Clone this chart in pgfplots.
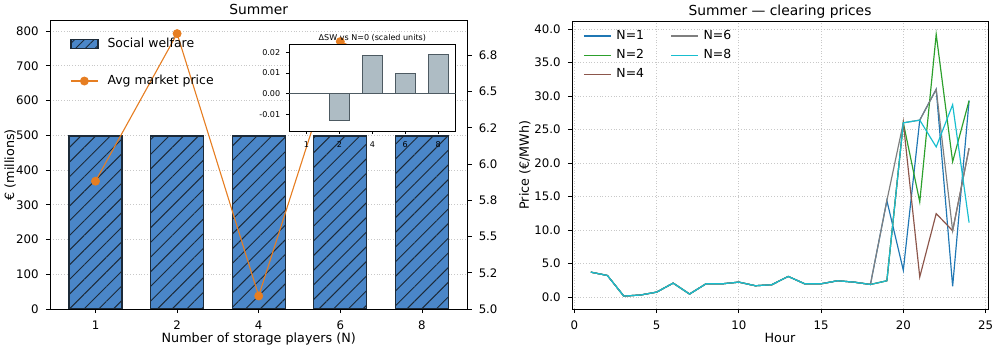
\documentclass[border=0pt]{standalone}
\usepackage{fontspec}
\setmainfont{DejaVu Sans}
\usepackage{pgfplots}
\usepackage{pgfplotstable}
\pgfplotsset{compat=1.18}
\usetikzlibrary{patterns.meta}

\definecolor{barblue}{HTML}{4A86C8}
\definecolor{baredge}{HTML}{1C2A38}
\definecolor{porange}{HTML}{E67E22}
\definecolor{insetfill}{HTML}{AEBCC4}
\definecolor{insetedge}{HTML}{4D5A62}
\definecolor{gridc}{HTML}{C8C8C8}
\definecolor{cA}{HTML}{1F77B4}
\definecolor{cB}{HTML}{2CA02C}
\definecolor{cC}{HTML}{8C564B}
\definecolor{cD}{HTML}{7F7F7F}
\definecolor{cE}{HTML}{17BECF}

\pgfplotstableread{
hour n1 n2 n4 n6 n8
1 3.72 3.72 3.72 3.72 3.72
2 3.22 3.22 3.22 3.22 3.22
3 0.15 0.15 0.15 0.15 0.15
4 0.30 0.30 0.30 0.30 0.30
5 0.74 0.74 0.74 0.74 0.74
6 2.08 2.08 2.08 2.08 2.08
7 0.45 0.45 0.45 0.45 0.45
8 1.98 1.98 1.98 1.98 1.98
9 1.98 1.98 1.98 1.98 1.98
10 2.23 2.23 2.23 2.23 2.23
11 1.69 1.69 1.69 1.69 1.69
12 1.84 1.84 1.84 1.84 1.84
13 3.08 3.08 3.08 3.08 3.08
14 1.98 1.98 1.98 1.98 1.98
15 1.98 1.98 1.98 1.98 1.98
16 2.43 2.43 2.43 2.43 2.43
17 2.23 2.23 2.23 2.23 2.23
18 1.88 1.88 1.88 1.88 1.88
19 14.4 2.43 2.43 14.4 2.43
20 4.0 26.0 26.0 26.0 26.0
21 26.4 14.2 3.0 26.4 26.4
22 31.0 39.2 12.45 31.0 22.4
23 1.6 20.2 9.9 9.9 28.7
24 29.3 29.3 22.2 22.2 11.1
}\prices

\pgfplotsset{
  every axis title shift=0pt,
  mpl/.style={
    scale only axis,
    /pgf/number format/assume math mode=true,
    tick label style={font=\fontsize{8.5}{10}\selectfont},
    label style={font=\fontsize{9.2}{11}\selectfont},
    title style={font=\fontsize{10}{12}\selectfont, at={(axis description cs:0.5,1)}, anchor=base, yshift=4.2pt, inner sep=0pt},
    tick align=outside,
    major tick length=3pt,
    every tick/.style={black, line width=0.6pt},
    axis line style={black, line width=0.7pt},
    grid style={gridc, line width=0.6pt, dash pattern=on 0.7pt off 1.3pt},
  },
}

\begin{document}
\begin{tikzpicture}
\path[use as bounding box] (0,0) rectangle (720.53pt,252.22pt);

% ---------- left panel: bars ----------
\begin{axis}[mpl,
  at={(36.14pt,28.91pt)}, anchor=south west,
  width=301.66pt, height=208.35pt,
  xmin=-0.5575, xmax=4.5575, ymin=0, ymax=830,
  xtick={0,1,2,3,4}, xticklabels={1,2,4,6,8},
  ytick={0,100,200,300,400,500,600,700,800},
  tick pos=left,
  xticklabel style={anchor=base, yshift=-12pt, inner sep=0pt},
  yticklabel style={anchor=east, xshift=-5pt, inner sep=0pt},
  ymajorgrids,
  xlabel={Number of storage players (N)},
  xlabel style={at={(axis description cs:0.5,0)}, anchor=base, yshift=-24pt, inner sep=0pt},
  ylabel={€ (millions)},
  ylabel style={at={([xshift=-28.9pt]axis description cs:0,0.5)}, anchor=center, inner sep=0pt},
  title={Summer},
]
\addplot[ybar, bar width=0.65, bar shift=0pt, fill=barblue, draw=baredge, line width=0.9pt,
  postaction={pattern={Lines[angle=45,distance=7.5pt,line width=0.7pt]}, pattern color=baredge, draw=baredge, line width=0.9pt}]
  coordinates {(0,498) (1,498) (2,498) (3,498) (4,498)};
\end{axis}

% ---------- left panel: price twin axis ----------
\begin{axis}[mpl,
  at={(36.14pt,28.91pt)}, anchor=south west,
  width=301.66pt, height=208.35pt,
  xmin=-0.5575, xmax=4.5575, ymin=5.0, ymax=6.99,
  axis x line=none, axis y line*=right,
  ytick={5,5.25,5.5,5.75,6,6.25,6.5,6.75},
  yticklabels={5.0,5.2,5.5,5.8,6.0,6.2,6.5,6.8},
  yticklabel style={anchor=west, xshift=5pt, inner sep=0pt},
  legend image code/.code={\draw[mark repeat=2,mark phase=2,#1] plot coordinates {(0pt,0pt) (9.75pt,0pt) (19.5pt,0pt)};},
  legend style={draw=none, fill=none, at={(axis description cs:0,1)}, anchor=north west,
    xshift=14.45pt, yshift=-12.2pt, inner sep=0pt, row sep=17.7pt,
    nodes={inner sep=0pt, text height=7pt, text depth=2pt, font=\fontsize{9}{11}\selectfont},
    /tikz/every odd column/.append style={column sep=6.5pt}},
  legend cell align=left,
]
\addlegendimage{legend image code/.code={\draw[fill=barblue, draw=baredge, line width=0.9pt, postaction={pattern={Lines[angle=45,distance=5pt,line width=0.6pt]}, pattern color=baredge, draw=baredge, line width=0.9pt}] (0pt,-3.25pt) rectangle (19.5pt,3.25pt);}}
\addlegendentry{Social welfare}
\addplot[porange, line width=0.8pt, mark=*, mark size=2.8pt, mark options={solid, fill=porange, draw=porange}]
  coordinates {(0,5.882) (1,6.901) (2,5.09) (3,6.846) (4,6.6)};
\addlegendentry{Avg market price}
\node[rotate=90, font=\fontsize{9.2}{11}\selectfont, anchor=center, inner sep=0pt] at ([xshift=29.0pt]axis description cs:1,0.5) {Price (€/MWh)};
\end{axis}

% ---------- inset ----------
\begin{axis}[mpl,
  at={(208.86pt,157.55pt)}, anchor=south west,
  width=120.47pt, height=62.66pt,
  xmin=-0.53, xmax=4.53, ymin=-0.018, ymax=0.0239,
  axis background/.style={fill=white},
  xtick={0,1,2,3,4}, xticklabels={1,2,4,6,8},
  ytick={-0.01,0,0.01,0.02}, yticklabels={-0.01,0.00,0.01,0.02},
  scaled y ticks=false,
  tick pos=left,
  major tick length=2.2pt,
  tick label style={font=\fontsize{5.8}{7}\selectfont},
  xticklabel style={anchor=base, yshift=-9.4pt, inner sep=0pt},
  yticklabel style={anchor=east, xshift=-4pt, inner sep=0pt},
  title={ΔSW vs N=0 (scaled units)},
  title style={font=\fontsize{5.8}{7}\selectfont, yshift=-1.8pt},
  axis line style={black, line width=0.6pt},
]
\addplot[ybar, bar width=0.6, bar shift=0pt, fill=insetfill, draw=insetedge, line width=0.7pt]
  coordinates {(0,0) (1,-0.013) (2,0.0184) (3,0.00995) (4,0.0188)};
\addplot[insetedge, line width=0.8pt, forget plot] coordinates {(-0.53,0) (4.53,0)};
\end{axis}

% ---------- right panel ----------
\begin{axis}[mpl,
  at={(413.38pt,28.91pt)}, anchor=south west,
  width=300.64pt, height=208.14pt,
  xmin=-0.15, xmax=25.15, ymin=-1.78, ymax=41.19,
  xtick={0,5,10,15,20,25}, ytick={0,5,10,15,20,25,30,35,40},
  tick pos=left,
  xticklabel style={anchor=base, yshift=-12pt, inner sep=0pt},
  yticklabel style={anchor=east, xshift=-5pt, inner sep=0pt,
    /pgf/number format/fixed, /pgf/number format/fixed zerofill, /pgf/number format/precision=1},
  grid=major,
  xlabel={Hour},
  xlabel style={at={(axis description cs:0.5,0)}, anchor=base, yshift=-24pt, inner sep=0pt},
  ylabel={Price (€/MWh)},
  ylabel style={at={([xshift=-34pt]axis description cs:0,0.5)}, anchor=center, inner sep=0pt},
  title={Summer — clearing prices},
  legend image code/.code={\draw[#1, line width=0.85pt] (0pt,0pt) -- (19.5pt,0pt);},
  legend columns=2,
  legend cell align=left,
  legend style={draw=none, fill=none, at={(axis description cs:0,1)}, anchor=north west,
    xshift=8pt, yshift=-6.2pt, inner sep=0pt, row sep=4.9pt,
    nodes={inner sep=0pt, text height=7pt, text depth=2pt, font=\fontsize{9}{11}\selectfont},
    /tikz/every odd column/.append style={column sep=3.6pt},
    /tikz/every even column/.append style={column sep=19pt}},
]
\addlegendimage{cA}\addlegendentry{N=1}
\addlegendimage{cD}\addlegendentry{N=6}
\addlegendimage{cB}\addlegendentry{N=2}
\addlegendimage{cE}\addlegendentry{N=8}
\addlegendimage{cC}\addlegendentry{N=4}
\addplot[cA, line width=0.85pt, forget plot] table[x=hour, y=n1] {\prices};
\addplot[cB, line width=0.85pt, forget plot] table[x=hour, y=n2] {\prices};
\addplot[cC, line width=0.85pt, forget plot] table[x=hour, y=n4] {\prices};
\addplot[cD, line width=0.85pt, forget plot] table[x=hour, y=n6] {\prices};
\addplot[cE, line width=0.85pt, forget plot] table[x=hour, y=n8] {\prices};
\end{axis}
\end{tikzpicture}
\end{document}
